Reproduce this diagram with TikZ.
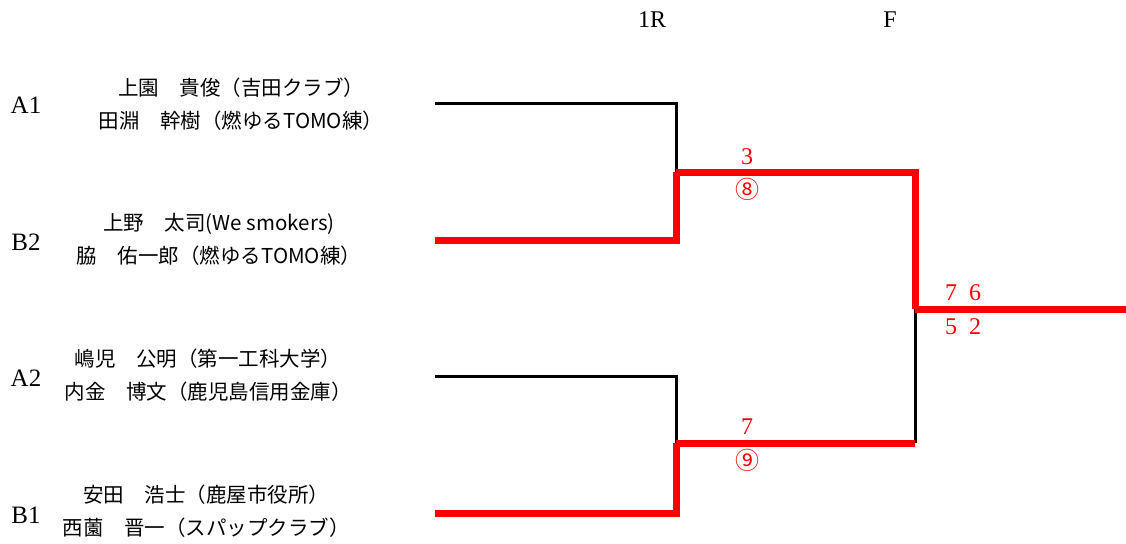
\documentclass[tikz,border=0pt]{standalone}
\usepackage{fontspec}
\setmainfont{Liberation Serif}
\newfontfamily\jpfont{Noto Sans CJK JP}
\usetikzlibrary{positioning}

\begin{document}
\begin{tikzpicture}[x=1pt,y=-1pt,
                    player/.style={align=center,font=\jpfont\fontsize{20.5}{33}\selectfont},
                    slotlabel/.style={font=\fontsize{25}{25}\selectfont},
                    roundlabel/.style={font=\fontsize{24}{24}\selectfont},
                    score/.style={text=red,font=\fontsize{24}{24}\selectfont},
                    circscore/.style={text=red,font=\jpfont\fontsize{24}{24}\selectfont},
                    winner/.style={draw=red,line width=7pt},
                    loser/.style={draw=black,line width=3pt}]

  \useasboundingbox (0,0) rectangle (1126,543);

  % round headings
  \node[roundlabel] (r1) at (652,20) {1R};
  \node[roundlabel] (rf) at (890,20) {F};

  % draw slots
  \node[slotlabel] (A1) at (26,105) {A1};
  \node[slotlabel] (B2) at (26,242) {B2};
  \node[slotlabel] (A2) at (26,378) {A2};
  \node[slotlabel] (B1) at (26,515) {B1};

  \node[player] (pA1) at (241,104) {上園　貴俊（吉田クラブ）\\田淵　幹樹（燃ゆるTOMO練）};
  \node[player] (pB2) at (219,239) {上野　太司(We smokers)\\脇　佑一郎（燃ゆるTOMO練）};
  \node[player] (pA2) at (208,375) {嶋児　公明（第一工科大学）\\内金　博文（鹿児島信用金庫）};
  \node[player] (pB1) at (206,511) {安田　浩士（鹿屋市役所）\\西薗　晋一（スパップクラブ）};

  % bracket points
  \coordinate (eA1) at (435,103);
  \coordinate (eB2) at (435,240);
  \coordinate (eA2) at (435,376);
  \coordinate (eB1) at (435,513);
  \coordinate (w1) at (676,172);
  \coordinate (w2) at (676,443);
  \coordinate (fin) at (915,309);
  \coordinate (f2) at (915,443);
  \coordinate (champ) at (1126,309);

  \path[loser]
  (eA1) -| (w1)
  (eA2) -| (w2)
  (f2) -- (fin);

  \path[winner]
  (eB2) -| (w1)
  (w1) -| (fin)
  (fin) -- (champ)
  (eB1) -| (w2)
  (w2) -- (f2);

  % scores
  \node[score] (s1) at (747,157) {3};
  \node[circscore] (c1) at (747,189) {⑧};
  \node[score] (s2) at (747,427) {7};
  \node[circscore] (c2) at (747,460) {⑨};
  \node[score] (sf) at (963,293) {7~~6};
  \node[score] (sf2) at (963,327) {5~~2};

\end{tikzpicture}
\end{document}
